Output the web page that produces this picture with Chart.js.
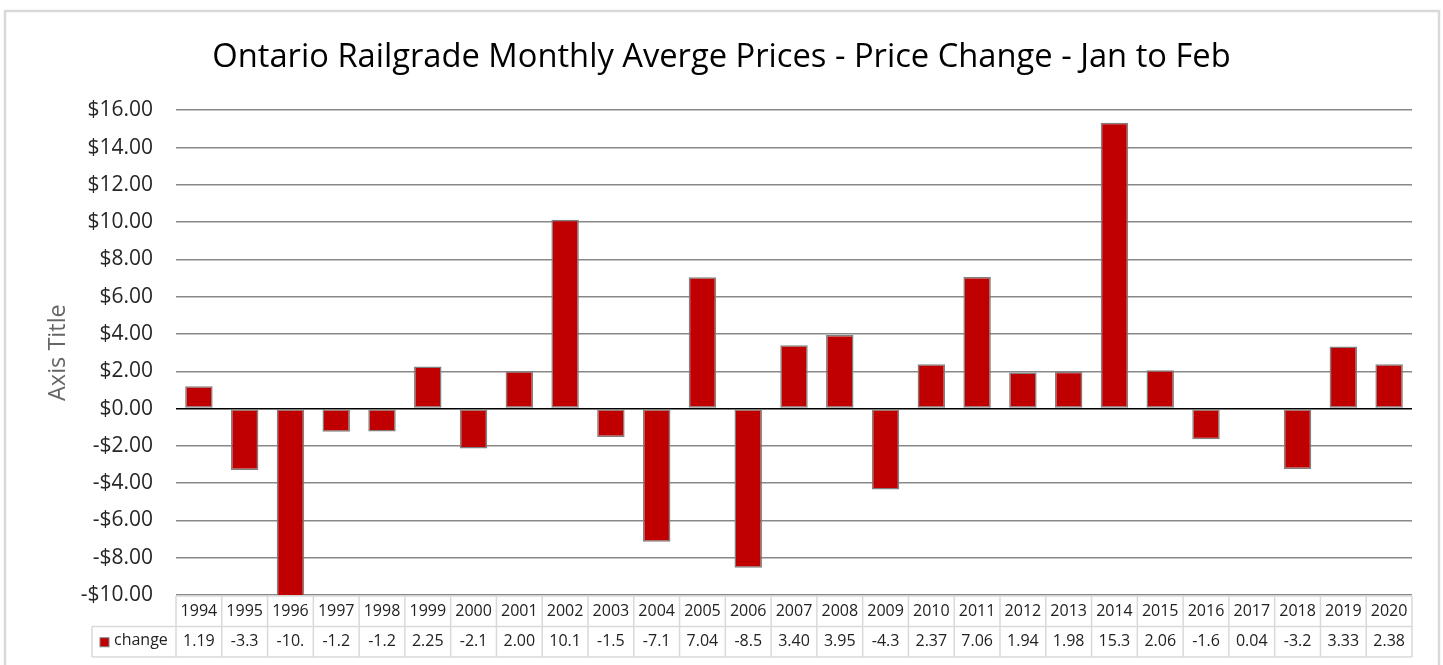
<!DOCTYPE html>
<html>
<head>
<meta charset="utf-8">
<script src="https://cdn.jsdelivr.net/npm/chart.js@4.4.1/dist/chart.umd.min.js"></script>
<style>
  body { margin: 0; background: #fff; }
  canvas { display: block; }
</style>
</head>
<body>
<canvas id="myChart" width="1443" height="665"></canvas>
<script>
var years = ["1994", "1995", "1996", "1997", "1998", "1999", "2000", "2001", "2002", "2003",
             "2004", "2005", "2006", "2007", "2008", "2009", "2010", "2011", "2012", "2013",
             "2014", "2015", "2016", "2017", "2018", "2019", "2020"];
var change = [1.19, -3.3, -10.1, -1.24, -1.23, 2.25, -2.14, 2.00, 10.12, -1.52,
              -7.14, 7.04, -8.54, 3.40, 3.95, -4.34, 2.37, 7.06, 1.94, 1.98,
              15.33, 2.06, -1.64, 0.04, -3.24, 3.33, 2.38];
var seriesName = "change";

// the data table squeezes each value into 4 characters
function cellText(v) {
    var s = v.toFixed(2);
    if (s.length > 4) s = v.toFixed(1);
    if (s.length > 4) s = s.slice(0, 4);
    return s;
}

var fontName = "Open Sans";
var tableFont = "16px 'Open Sans'";
var lineGrey = "#d9d9d9";

var frame = {
    id: "frame",
    beforeDraw: function(chart) {
        var c = chart.ctx;
        c.save();
        c.fillStyle = "#fff";
        c.fillRect(0, 0, chart.width, chart.height);
        c.strokeStyle = lineGrey;
        c.lineWidth = 2.5;
        c.strokeRect(5, 11, 1434, 700);
        c.restore();
    }
};

var dataTable = {
    id: "dataTable",
    afterDraw: function(chart) {
        var c = chart.ctx;
        var xs = chart.scales.x;
        var n = chart.data.labels.length;
        var w = (xs.right - xs.left) / n;
        var top = xs.top + 1;
        var rowH = 30.5;
        var mid = top + rowH, bot = top + 2 * rowH;
        var legLeft = 92;
        c.save();
        c.strokeStyle = lineGrey;
        c.lineWidth = 1.5;
        c.beginPath();
        c.moveTo(xs.left, top); c.lineTo(xs.right, top);
        c.moveTo(legLeft, mid); c.lineTo(xs.right, mid);
        c.moveTo(legLeft, bot); c.lineTo(xs.right, bot);
        c.moveTo(legLeft, mid); c.lineTo(legLeft, bot);
        for (var i = 0; i <= n; i++) {
            var x = xs.left + i * w;
            c.moveTo(x, top); c.lineTo(x, bot);
        }
        c.stroke();

        var ds = chart.data.datasets[0];
        c.font = tableFont;
        c.fillStyle = "#222";
        c.textAlign = "center";
        c.textBaseline = "middle";
        var ty = (mid + bot) / 2;
        for (var j = 0; j < n; j++) {
            c.fillText(cellText(ds.data[j]), xs.getPixelForValue(j), ty);
        }
        // legend key
        c.fillStyle = ds.backgroundColor;
        c.fillRect(100, ty - 4, 9, 9);
        c.strokeStyle = ds.borderColor;
        c.lineWidth = 1;
        c.strokeRect(100, ty - 4, 9, 9);
        c.fillStyle = "#222";
        c.textAlign = "left";
        c.fillText(ds.label, 114, ty - 1);
        c.restore();
    }
};

var ctx = document.getElementById("myChart");
var myChart = new Chart(ctx, {
    type: "bar",
    data: {
        labels: years,
        datasets: [{
            label: seriesName,
            data: change,
            backgroundColor: "#c00000",
            borderColor: "#808080",
            borderWidth: 1.5,
            borderSkipped: false,
            categoryPercentage: 0.8,
            barPercentage: 0.75
        }]
    },
    options: {
        responsive: false,
        animation: false,
        layout: { padding: 0 },
        plugins: {
            legend: { display: false },
            tooltip: { enabled: false },
            title: {
                display: true,
                text: "Ontario Railgrade Monthly Averge Prices - Price Change - Jan to Feb",
                color: "#000",
                font: { family: fontName, size: 32.7, weight: "normal" },
                padding: { top: 38, bottom: 33 }
            }
        },
        scales: {
            x: {
                grid: { display: false, drawTicks: false },
                border: { display: false },
                ticks: {
                    color: "#222",
                    font: { family: fontName, size: 16 },
                    padding: 7,
                    maxRotation: 0,
                    autoSkip: false
                },
                afterFit: function(scale) { scale.height = 70; }
            },
            y: {
                min: -10,
                max: 16,
                ticks: {
                    stepSize: 2,
                    color: "#262626",
                    font: { family: fontName, size: 21 },
                    padding: 23,
                    callback: function(v) {
                        return (v < 0 ? "-" : "") + "$" + Math.abs(v).toFixed(2);
                    }
                },
                grid: {
                    drawTicks: false,
                    lineWidth: 1.5,
                    color: function(c) { return c.tick && c.tick.value === 0 ? "#000" : "#888"; }
                },
                border: { display: false },
                title: {
                    display: true,
                    text: "Axis Title",
                    color: "#666",
                    font: { family: fontName, size: 23.5 },
                    padding: { top: 44, bottom: 0 }
                },
                afterFit: function(scale) { scale.width = 176; }
            },
            // empty right-hand margin so the title centres on the whole frame
            yRight: {
                type: "linear",
                position: "right",
                ticks: { display: false },
                grid: { display: false },
                border: { display: false },
                afterFit: function(scale) { scale.width = 31; }
            }
        }
    },
    plugins: [frame, dataTable]
});
</script>
</body>
</html>
